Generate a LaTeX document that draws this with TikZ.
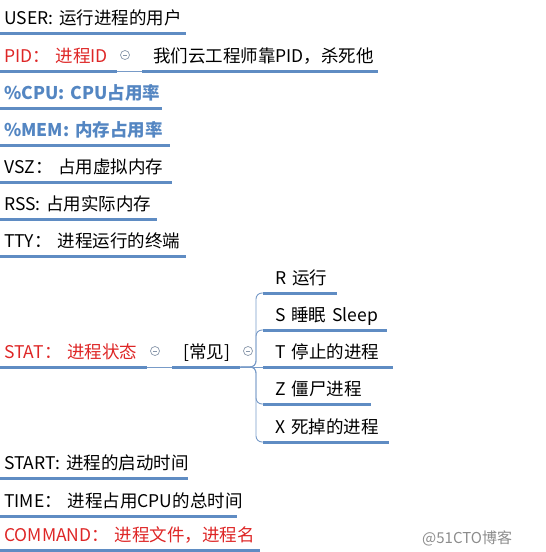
\documentclass[tikz,border=0pt]{standalone}
\usepackage{fontspec}
\setmainfont{Noto Sans CJK SC}
\definecolor{lineblue}{RGB}{95,140,195}
\definecolor{thinblue}{RGB}{120,155,200}
\definecolor{mmred}{RGB}{222,38,38}
\definecolor{mmblue}{RGB}{84,134,194}
\definecolor{foldgray}{RGB}{135,150,170}
\definecolor{wmgray}{RGB}{140,140,140}
\tikzset{
  uline/.style={draw=lineblue, line width=3pt},
  thinlink/.style={draw=thinblue, line width=0.9pt},
  mm/.style={anchor=south west, inner xsep=0pt, inner ysep=0pt,
    text height=14pt, text depth=8.5pt, align=left,
    font=\fontsize{17.5}{20}\selectfont,
    append after command={(\tikzlastnode.south west) edge[uline] (\tikzlastnode.south east)}},
  fold/.style={circle, draw=foldgray, line width=0.7pt, minimum size=9pt, inner sep=0pt,
    path picture={\draw[foldgray, line width=0.7pt] ([xshift=-2.2pt]path picture bounding box.center) -- ([xshift=2.2pt]path picture bounding box.center);}},
  redtxt/.style={text=mmred},
  bluetxt/.style={text=mmblue, font=\fontsize{17.5}{20}\selectfont\bfseries},
}
\begin{document}
\begin{tikzpicture}[x=1pt,y=-1pt]
\useasboundingbox (0,0) rectangle (546,552);
% left column
\node[mm, text width=186pt] (user) at (0,33) {\mbox{\hspace*{4pt}USER: 运行进程的用户}};
\node[mm, redtxt, text width=117pt] (pid) at (0,71) {\mbox{\hspace*{4pt}PID： 进程ID}};
\node[fold] (pidfold) at (125,55) {};
\node[mm, text width=236pt] (pidc) at (142,71) {\mbox{\hspace*{11pt}我们云工程师靠PID，杀死他}};
\node[mm, bluetxt, text width=162pt] (cpu) at (0,108) {\mbox{\hspace*{4pt}\%CPU: CPU占用率}};
\node[mm, bluetxt, text width=170pt] (mem) at (0,145) {\mbox{\hspace*{4pt}\%MEM: 内存占用率}};
\node[mm, text width=172pt] (vsz) at (0,182) {\mbox{\hspace*{4pt}VSZ：\ 占用虚拟内存}};
\node[mm, text width=157pt] (rss) at (0,219) {\mbox{\hspace*{4pt}RSS: 占用实际内存}};
\node[mm, text width=186pt] (tty) at (0,256) {\mbox{\hspace*{4pt}TTY：\ 进程运行的终端}};
\node[mm, redtxt, text width=147pt] (stat) at (0,367) {\mbox{\hspace*{4pt}STAT： 进程状态}};
\node[fold] (statfold) at (155,351) {};
\node[mm, text width=68pt] (common) at (172,367) {\mbox{\hspace*{11pt}[常见]}};
\node[fold] (commonfold) at (248,351) {};
% children of common
\node[mm, text width=74pt] (sr) at (263,293) {\mbox{\hspace*{12pt}R 运行}};
\node[mm, text width=124pt] (ss) at (263,330) {\mbox{\hspace*{12pt}S 睡眠 Sleep}};
\node[mm, text width=130pt] (st) at (263,367) {\mbox{\hspace*{12pt}T 停止的进程}};
\node[mm, text width=108pt] (sz) at (263,404) {\mbox{\hspace*{12pt}Z 僵尸进程}};
\node[mm, text width=126pt] (sx) at (263,442) {\mbox{\hspace*{12pt}X 死掉的进程}};
% bottom
\node[mm, text width=188pt] (start) at (0,478) {\mbox{\hspace*{4pt}START: 进程的启动时间}};
\node[mm, text width=237pt] (time) at (0,516) {\mbox{\hspace*{4pt}TIME：\ 进程占用CPU的总时间}};
\node[mm, redtxt, text width=260pt] (cmd) at (0,550) {\mbox{\hspace*{4pt}COMMAND： 进程文件，进程名}};
% watermark
\node[anchor=base west, inner sep=0pt, text=wmgray, font=\fontsize{15}{18}\selectfont] (wm) at (422,543) {@51CTO博客};
% connectors
\draw[thinlink] (pid.south east) -- (pidc.south west);
\draw[thinlink] (stat.south east) -- (common.south west);
\draw[thinlink] (common.south east) -- (st.south west);
\foreach \c in {sr,ss,sz,sx}{
  \draw[thinlink, rounded corners=6pt] (common.south east) -| ([xshift=-7pt]\c.south west) -- (\c.south west);
}
\end{tikzpicture}
\end{document}
